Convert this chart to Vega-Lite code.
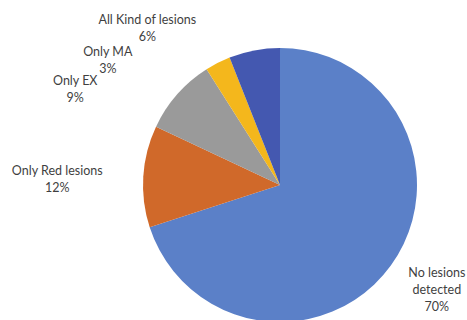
{
  "$schema": "https://vega.github.io/schema/vega-lite/v6.json",
  "autosize": "none",
  "width": 374,
  "height": 270,
  "padding": {"left": 93, "top": 50, "right": 0, "bottom": 0},
  "background": "white",
  "data": {
    "values": [
      {"category": "No lesions detected", "value": 70, "order": 1},
      {"category": "Only Red lesions", "value": 12, "order": 2},
      {"category": "Only EX", "value": 9, "order": 3},
      {"category": "Only MA", "value": 3, "order": 4},
      {"category": "All Kind of lesions", "value": 6, "order": 5}
    ]
  },
  "encoding": {
    "theta": {"field": "value", "type": "quantitative", "stack": true},
    "order": {"field": "order", "type": "quantitative"}
  },
  "layer": [
    {
      "mark": {"type": "arc", "outerRadius": 137},
      "encoding": {
        "color": {
          "field": "category",
          "type": "nominal",
          "scale": {
            "domain": ["No lesions detected", "Only Red lesions", "Only EX", "Only MA", "All Kind of lesions"],
            "range": ["#5b80c8", "#d0692a", "#9a9a9a", "#f4b71c", "#4458b0"]
          },
          "legend": null
        }
      }
    },
    {
      "transform": [{"calculate": "datum.category === 'No lesions detected' ? ['No lesions', 'detected', datum.value + '%'] : ['', '', '']", "as": "lbl"}],
      "mark": {"type": "text", "radius": 137, "dx": 46, "dy": 7, "font": "Lato", "fontSize": 12.5, "lineHeight": 17, "fill": "#3f3f3f", "align": "center", "baseline": "middle"},
      "encoding": {"text": {"field": "lbl"}}
    },
    {
      "transform": [{"calculate": "datum.category === 'Only Red lesions' ? [datum.category, datum.value + '%'] : ['', '']", "as": "lbl"}],
      "mark": {"type": "text", "radius": 137, "dx": -86, "dy": -5, "font": "Lato", "fontSize": 12.5, "lineHeight": 17, "fill": "#3f3f3f", "align": "center", "baseline": "middle"},
      "encoding": {"text": {"field": "lbl"}}
    },
    {
      "transform": [{"calculate": "datum.category === 'Only EX' ? [datum.category, datum.value + '%'] : ['', '']", "as": "lbl"}],
      "mark": {"type": "text", "radius": 137, "dx": -102, "dy": -13, "font": "Lato", "fontSize": 12.5, "lineHeight": 17, "fill": "#3f3f3f", "align": "center", "baseline": "middle"},
      "encoding": {"text": {"field": "lbl"}}
    },
    {
      "transform": [{"calculate": "datum.category === 'Only MA' ? [datum.category, datum.value + '%'] : ['', '']", "as": "lbl"}],
      "mark": {"type": "text", "radius": 137, "dx": -110, "dy": -11, "font": "Lato", "fontSize": 12.5, "lineHeight": 17, "fill": "#3f3f3f", "align": "center", "baseline": "middle"},
      "encoding": {"text": {"field": "lbl"}}
    },
    {
      "transform": [{"calculate": "datum.category === 'All Kind of lesions' ? [datum.category, datum.value + '%'] : ['', '']", "as": "lbl"}],
      "mark": {"type": "text", "radius": 137, "dx": -107, "dy": -30, "font": "Lato", "fontSize": 12.5, "lineHeight": 17, "fill": "#3f3f3f", "align": "center", "baseline": "middle"},
      "encoding": {"text": {"field": "lbl"}}
    }
  ]
}
